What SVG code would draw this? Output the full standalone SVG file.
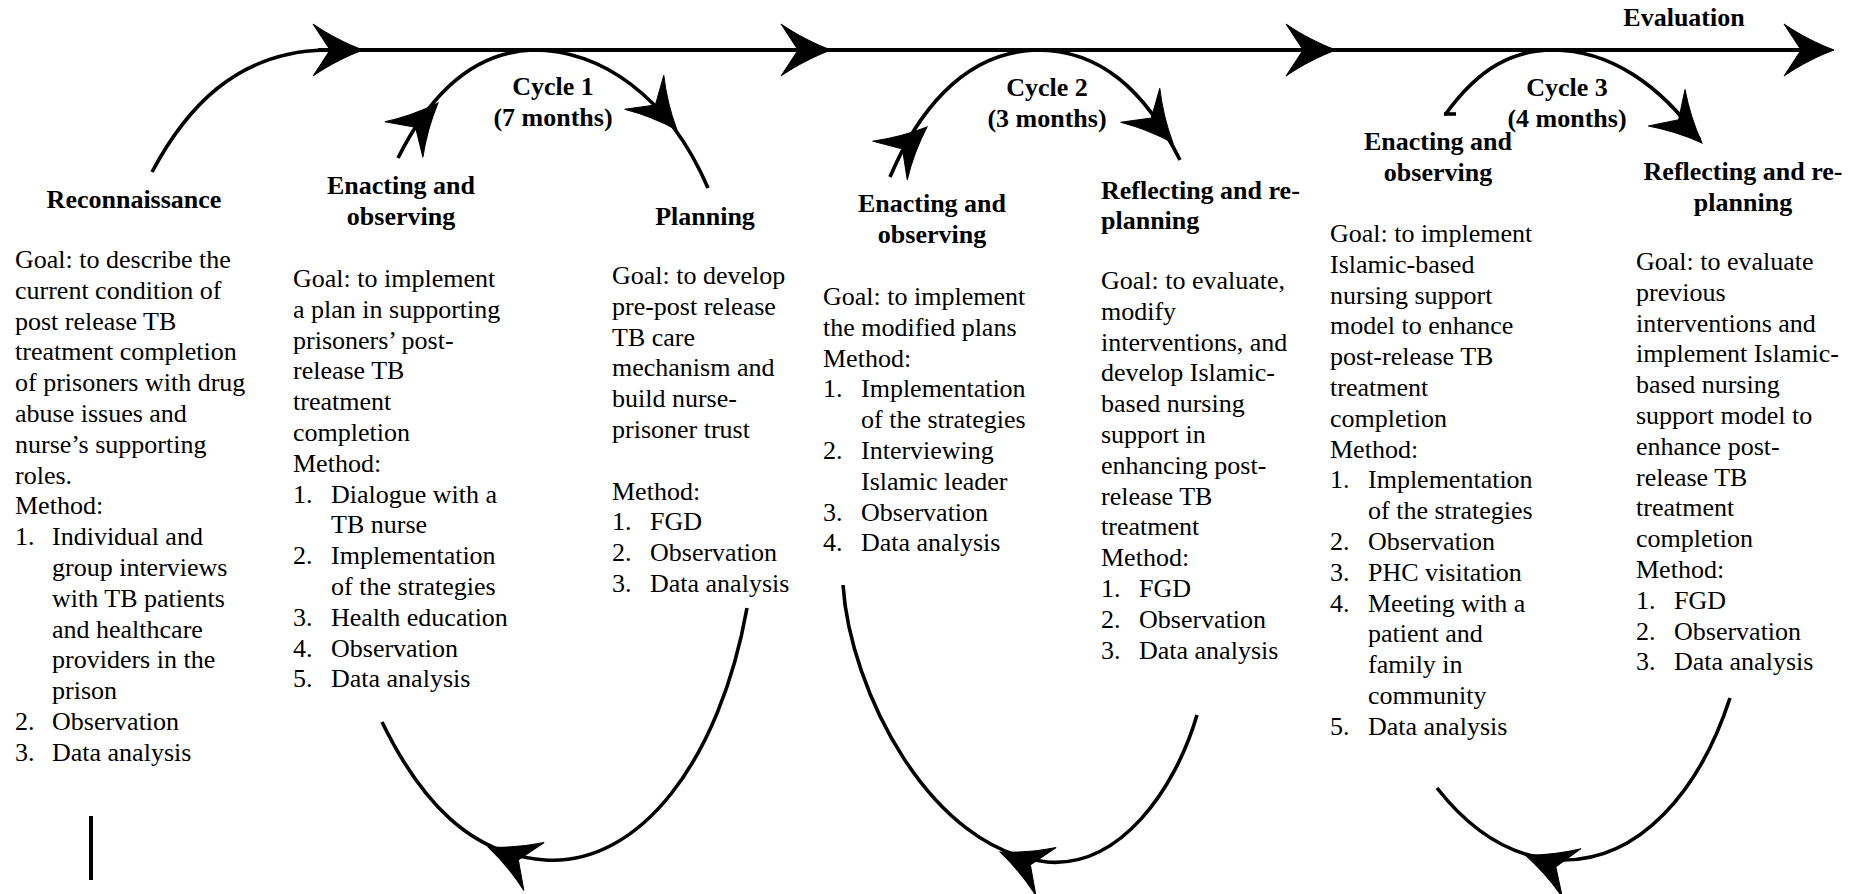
<svg xmlns="http://www.w3.org/2000/svg" xmlns:xlink="http://www.w3.org/1999/xlink" width="1859" height="894" viewBox="0 0 1859 894">
<style>
.body{font-family:"Liberation Serif","Times New Roman",serif;font-size:26px;fill:#000}
.head{font-family:"Liberation Serif","Times New Roman",serif;font-size:26px;font-weight:bold;fill:#000}
.ln{fill:none;stroke:#000;stroke-width:4;stroke-linecap:butt}
.arc{fill:none;stroke:#000;stroke-width:3.6}
</style>
<defs>
<path id="ah" d="M0,0 C-16,-6 -34,-15 -50,-26 L-33,0 L-50,26 C-34,15 -16,6 0,0 Z" fill="#000" stroke="#000" stroke-width="1"/>
</defs>
<rect width="1859" height="894" fill="#fff"/>
<g id="connectors">
<path class="ln" d="M318,50 H1812"/>
<use xlink:href="#ah" href="#ah" transform="translate(363,50)"/>
<use xlink:href="#ah" href="#ah" transform="translate(831,50)"/>
<use xlink:href="#ah" href="#ah" transform="translate(1336,50)"/>
<use xlink:href="#ah" href="#ah" transform="translate(1834,50)"/>
<path class="arc" d="M152,172 C185,110 235,52 325,50"/>
<path class="arc" d="M398,158 C428,98 470,52 533,50 C600,50 668,95 708,188"/>
<use xlink:href="#ah" href="#ah" transform="translate(438,103) rotate(-47)"/>
<use xlink:href="#ah" href="#ah" transform="translate(677,130) rotate(49)"/>
<path class="arc" d="M382,722 C420,800 470,855 545,860 C640,866 720,760 747,608"/>
<use xlink:href="#ah" href="#ah" transform="translate(488,847) rotate(203)"/>
<path class="arc" d="M890,177 C915,118 960,52 1037,50 C1100,50 1145,90 1180,160"/>
<use xlink:href="#ah" href="#ah" transform="translate(927,127) rotate(-42)"/>
<use xlink:href="#ah" href="#ah" transform="translate(1173,143) rotate(49)"/>
<path class="arc" d="M843,585 C850,690 930,850 1047,862 C1120,868 1175,790 1197,715"/>
<use xlink:href="#ah" href="#ah" transform="translate(1000,852) rotate(203)"/>
<path class="arc" d="M1445,115 C1480,66 1515,50 1553,50 C1610,50 1660,85 1700,140"/>
<path class="arc" d="M1444,114 H1456"/>
<use xlink:href="#ah" href="#ah" transform="translate(1702,143) rotate(45)"/>
<path class="arc" d="M1437,788 C1470,830 1510,858 1560,860 C1640,862 1700,790 1730,698"/>
<use xlink:href="#ah" href="#ah" transform="translate(1525,855) rotate(201)"/>
<path class="ln" d="M91,816 V880"/>
</g>
<g id="evaluation"><text class="head" x="1684" y="26" text-anchor="middle">Evaluation</text></g>
<g id="cycle1-label"><text class="head" text-anchor="middle"><tspan x="553" y="95">Cycle 1</tspan><tspan x="553" y="126">(7 months)</tspan></text></g>
<g id="cycle2-label"><text class="head" text-anchor="middle"><tspan x="1047" y="96">Cycle 2</tspan><tspan x="1047" y="127">(3 months)</tspan></text></g>
<g id="cycle3-label"><text class="head" text-anchor="middle"><tspan x="1567" y="96">Cycle 3</tspan><tspan x="1567" y="127">(4 months)</tspan></text></g>
<g id="reconnaissance">
<text class="head" x="134" y="208" text-anchor="middle">Reconnaissance</text>
<text class="body">
<tspan x="15" y="268">Goal: to describe the</tspan>
<tspan x="15" y="298.8">current condition of</tspan>
<tspan x="15" y="329.6">post release TB</tspan>
<tspan x="15" y="360.4">treatment completion</tspan>
<tspan x="15" y="391.2">of prisoners with drug</tspan>
<tspan x="15" y="422">abuse issues and</tspan>
<tspan x="15" y="452.8">nurse’s supporting</tspan>
<tspan x="15" y="483.6">roles.</tspan>
<tspan x="15" y="514.4">Method:</tspan>
<tspan x="15" y="545.2">1.</tspan><tspan x="52" y="545.2">Individual and</tspan>
<tspan x="52" y="576">group interviews</tspan>
<tspan x="52" y="606.8">with TB patients</tspan>
<tspan x="52" y="637.6">and healthcare</tspan>
<tspan x="52" y="668.4">providers in the</tspan>
<tspan x="52" y="699.2">prison</tspan>
<tspan x="15" y="730">2.</tspan><tspan x="52" y="730">Observation</tspan>
<tspan x="15" y="760.8">3.</tspan><tspan x="52" y="760.8">Data analysis</tspan>
</text>
</g>
<g id="enacting1">
<text class="head" text-anchor="middle"><tspan x="401" y="194">Enacting and</tspan><tspan x="401" y="225">observing</tspan></text>
<text class="body">
<tspan x="293" y="287">Goal: to implement</tspan>
<tspan x="293" y="317.8">a plan in supporting</tspan>
<tspan x="293" y="348.6">prisoners’ post-</tspan>
<tspan x="293" y="379.4">release TB</tspan>
<tspan x="293" y="410.2">treatment</tspan>
<tspan x="293" y="441">completion</tspan>
<tspan x="293" y="471.8">Method:</tspan>
<tspan x="293" y="502.6">1.</tspan><tspan x="331" y="502.6">Dialogue with a</tspan>
<tspan x="331" y="533.4">TB nurse</tspan>
<tspan x="293" y="564.2">2.</tspan><tspan x="331" y="564.2">Implementation</tspan>
<tspan x="331" y="595">of the strategies</tspan>
<tspan x="293" y="625.8">3.</tspan><tspan x="331" y="625.8">Health education</tspan>
<tspan x="293" y="656.6">4.</tspan><tspan x="331" y="656.6">Observation</tspan>
<tspan x="293" y="687.4">5.</tspan><tspan x="331" y="687.4">Data analysis</tspan>
</text>
</g>
<g id="planning">
<text class="head" x="705" y="225" text-anchor="middle">Planning</text>
<text class="body">
<tspan x="612" y="284">Goal: to develop</tspan>
<tspan x="612" y="314.8">pre-post release</tspan>
<tspan x="612" y="345.6">TB care</tspan>
<tspan x="612" y="376.4">mechanism and</tspan>
<tspan x="612" y="407.2">build nurse-</tspan>
<tspan x="612" y="438">prisoner trust</tspan>
<tspan x="612" y="499.6">Method:</tspan>
<tspan x="612" y="530.4">1.</tspan><tspan x="650" y="530.4">FGD</tspan>
<tspan x="612" y="561.2">2.</tspan><tspan x="650" y="561.2">Observation</tspan>
<tspan x="612" y="592">3.</tspan><tspan x="650" y="592">Data analysis</tspan>
</text>
</g>
<g id="enacting2">
<text class="head" text-anchor="middle"><tspan x="932" y="212">Enacting and</tspan><tspan x="932" y="243">observing</tspan></text>
<text class="body">
<tspan x="823" y="305">Goal: to implement</tspan>
<tspan x="823" y="335.8">the modified plans</tspan>
<tspan x="823" y="366.6">Method:</tspan>
<tspan x="823" y="397.4">1.</tspan><tspan x="861" y="397.4">Implementation</tspan>
<tspan x="861" y="428.2">of the strategies</tspan>
<tspan x="823" y="459">2.</tspan><tspan x="861" y="459">Interviewing</tspan>
<tspan x="861" y="489.8">Islamic leader</tspan>
<tspan x="823" y="520.6">3.</tspan><tspan x="861" y="520.6">Observation</tspan>
<tspan x="823" y="551.4">4.</tspan><tspan x="861" y="551.4">Data analysis</tspan>
</text>
</g>
<g id="reflecting2">
<text class="head"><tspan x="1101" y="199">Reflecting and re-</tspan><tspan x="1101" y="229">planning</tspan></text>
<text class="body">
<tspan x="1101" y="289">Goal: to evaluate,</tspan>
<tspan x="1101" y="319.8">modify</tspan>
<tspan x="1101" y="350.6">interventions, and</tspan>
<tspan x="1101" y="381.4">develop Islamic-</tspan>
<tspan x="1101" y="412.2">based nursing</tspan>
<tspan x="1101" y="443">support in</tspan>
<tspan x="1101" y="473.8">enhancing post-</tspan>
<tspan x="1101" y="504.6">release TB</tspan>
<tspan x="1101" y="535.4">treatment</tspan>
<tspan x="1101" y="566.2">Method:</tspan>
<tspan x="1101" y="597">1.</tspan><tspan x="1139" y="597">FGD</tspan>
<tspan x="1101" y="627.8">2.</tspan><tspan x="1139" y="627.8">Observation</tspan>
<tspan x="1101" y="658.6">3.</tspan><tspan x="1139" y="658.6">Data analysis</tspan>
</text>
</g>
<g id="enacting3">
<text class="head" text-anchor="middle"><tspan x="1438" y="150">Enacting and</tspan><tspan x="1438" y="181">observing</tspan></text>
<text class="body">
<tspan x="1330" y="242">Goal: to implement</tspan>
<tspan x="1330" y="272.8">Islamic-based</tspan>
<tspan x="1330" y="303.6">nursing support</tspan>
<tspan x="1330" y="334.4">model to enhance</tspan>
<tspan x="1330" y="365.2">post-release TB</tspan>
<tspan x="1330" y="396">treatment</tspan>
<tspan x="1330" y="426.8">completion</tspan>
<tspan x="1330" y="457.6">Method:</tspan>
<tspan x="1330" y="488.4">1.</tspan><tspan x="1368" y="488.4">Implementation</tspan>
<tspan x="1368" y="519.2">of the strategies</tspan>
<tspan x="1330" y="550">2.</tspan><tspan x="1368" y="550">Observation</tspan>
<tspan x="1330" y="580.8">3.</tspan><tspan x="1368" y="580.8">PHC visitation</tspan>
<tspan x="1330" y="611.6">4.</tspan><tspan x="1368" y="611.6">Meeting with a</tspan>
<tspan x="1368" y="642.4">patient and</tspan>
<tspan x="1368" y="673.2">family in</tspan>
<tspan x="1368" y="704">community</tspan>
<tspan x="1330" y="734.8">5.</tspan><tspan x="1368" y="734.8">Data analysis</tspan>
</text>
</g>
<g id="reflecting3">
<text class="head" text-anchor="middle"><tspan x="1743" y="180">Reflecting and re-</tspan><tspan x="1743" y="211">planning</tspan></text>
<text class="body">
<tspan x="1636" y="270">Goal: to evaluate</tspan>
<tspan x="1636" y="300.8">previous</tspan>
<tspan x="1636" y="331.6">interventions and</tspan>
<tspan x="1636" y="362.4">implement Islamic-</tspan>
<tspan x="1636" y="393.2">based nursing</tspan>
<tspan x="1636" y="424">support model to</tspan>
<tspan x="1636" y="454.8">enhance post-</tspan>
<tspan x="1636" y="485.6">release TB</tspan>
<tspan x="1636" y="516.4">treatment</tspan>
<tspan x="1636" y="547.2">completion</tspan>
<tspan x="1636" y="578">Method:</tspan>
<tspan x="1636" y="608.8">1.</tspan><tspan x="1674" y="608.8">FGD</tspan>
<tspan x="1636" y="639.6">2.</tspan><tspan x="1674" y="639.6">Observation</tspan>
<tspan x="1636" y="670.4">3.</tspan><tspan x="1674" y="670.4">Data analysis</tspan>
</text>
</g>
</svg>
